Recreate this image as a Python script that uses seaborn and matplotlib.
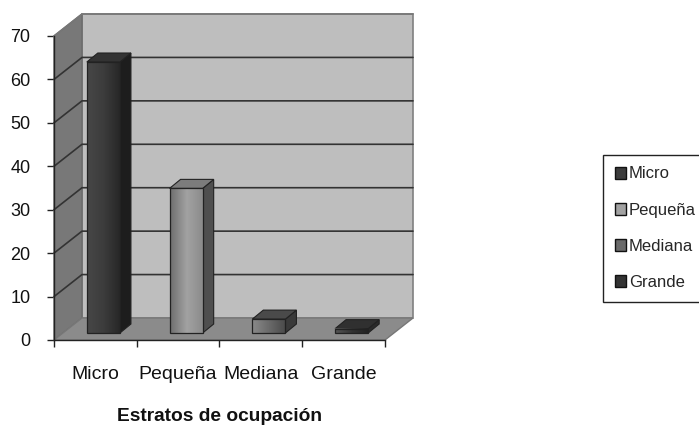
import numpy as np
import matplotlib
matplotlib.use("Agg")
import matplotlib.pyplot as plt
from matplotlib.patches import Patch
import seaborn as sns

# values
estratos = ["Micro", "Pequeña", "Mediana", "Grande"]
porcentaje = [62.4, 33.3, 3.2, 1]
yticks = [0, 10, 20, 30, 40, 50, 60, 70]

# gradient (left, middle, right), side and top greys per bar
grad_colors = [("#474747", "#3c3c3c", "#262626"), ("#6f6f6f", "#a2a2a2", "#8a8a8a"),
               ("#8a8a8a", "#6a6a6a", "#4a4a4a"), ("#555555", "#333333", "#222222")]
side_colors = ["#1d1d1d", "#4f4f4f", "#3a3a3a", "#2a2a2a"]
top_colors = ["#333333", "#7c7c7c", "#4a4a4a", "#303030"]

sns.set_theme(style="white")
plt.rcParams["font.family"] = ["Liberation Sans", "DejaVu Sans"]

W, H = 699, 426
fig = plt.figure(figsize=(W / 100, H / 100), dpi=100)
# front plane of the 3d box, in pixels: x 54-385, y 36-340
ax = fig.add_axes([54 / W, 1 - 340 / H, 331 / W, 304 / H])
ax.patch.set_alpha(0)

sns.barplot(x=estratos, y=porcentaje, ax=ax, width=0.4, color="#555555", zorder=3)
ax.set_xlim(-0.5, 3.5)
ax.set_ylim(0, 70)
xu = 4 / 331
yu = 70 / 304

# box walls
dx, dy = 28 * xu, 22 * yu
x0, x1 = -0.5, 3.5
ax.fill([x0 + dx, x1 + dx, x1 + dx, x0 + dx], [dy, dy, 70 + dy, 70 + dy],
        fc="#bebebe", ec="#808080", lw=1.2, clip_on=False, zorder=0.5)
ax.fill([x0, x0 + dx, x0 + dx, x0], [0, dy, 70 + dy, 70],
        fc="#787878", ec="#6a6a6a", lw=1, clip_on=False, zorder=0.6)
ax.fill([x0, x1, x1 + dx, x0 + dx], [0, 0, dy, dy],
        fc="#8b8b8b", ec="#777777", lw=1, clip_on=False, zorder=0.7)
for v in yticks[1:-1]:
    ax.plot([x0, x0 + dx, x1 + dx], [v, v + dy, v + dy], color="#333333", lw=1.2,
            clip_on=False, zorder=0.8)
ax.plot([x0, x0 + dx, x1 + dx], [70, 70 + dy, 70 + dy], color="#777777", lw=1.2,
        clip_on=False, zorder=0.8)

# bars: front gradient, side and top faces
off_x, off_y = 8 * xu, 7 * yu
bx, by = 11 * xu, 9 * yu
for i, p in enumerate(ax.patches[:4]):
    left = p.get_x() + off_x
    h = p.get_height()
    w = p.get_width()
    p.set_x(left)
    p.set_y(off_y)
    p.set_facecolor("none")
    p.set_edgecolor("#222222")
    p.set_linewidth(0.9)
    cmap = matplotlib.colors.LinearSegmentedColormap.from_list("g", grad_colors[i])
    ax.imshow(np.linspace(0, 1, 64).reshape(1, -1), extent=(left, left + w, off_y, off_y + h),
              aspect="auto", cmap=cmap, zorder=2.5)
    right = left + w
    ax.fill([right, right + bx, right + bx, right],
            [off_y, off_y + by, off_y + h + by, off_y + h],
            fc=side_colors[i], ec="#222222", lw=0.8, zorder=2.4)
    ax.fill([left, left + bx, right + bx, right],
            [off_y + h, off_y + h + by, off_y + h + by, off_y + h],
            fc=top_colors[i], ec="#222222", lw=0.8, zorder=2.4)
ax.set_xlim(-0.5, 3.5)
ax.set_ylim(0, 70)

# axes and ticks
for s in ["top", "right"]:
    ax.spines[s].set_visible(False)
for s in ["left", "bottom"]:
    ax.spines[s].set_color("#222222")
    ax.spines[s].set_linewidth(1)
    ax.spines[s].set_zorder(5)
ax.set_yticks(yticks)
ax.set_xticks(np.arange(5) - 0.5)
ax.set_xticklabels([])
ax.set_xticks(np.arange(4), labels=estratos, minor=True)
ax.tick_params(axis="x", which="major", length=5, width=1, color="#222222", bottom=True)
ax.tick_params(axis="x", which="minor", length=0, pad=19, labelsize=14, labelcolor="#111111")
ax.tick_params(axis="y", length=5, width=1, color="#222222", left=True, pad=12,
               labelsize=13, labelcolor="#111111")
ax.set_xlabel("Estratos de ocupación", fontsize=13.8, fontweight="bold", color="#111111",
              labelpad=18)
ax.set_ylabel("")
ax.grid(False)

# legend
handles = [Patch(fc=c[1], ec="#111111", lw=1) for c in grad_colors]
leg = fig.legend(handles, estratos, loc="upper left",
                 bbox_to_anchor=(603 / W, 1 - 155 / H), borderaxespad=0, fontsize=12,
                 frameon=True, fancybox=False, edgecolor="#222222", framealpha=1,
                 handlelength=0.7, handleheight=0.7, handletextpad=0.15,
                 labelspacing=1.27, borderpad=0.69)
leg.get_frame().set_linewidth(1)

fig.savefig("out.png", dpi=100)
